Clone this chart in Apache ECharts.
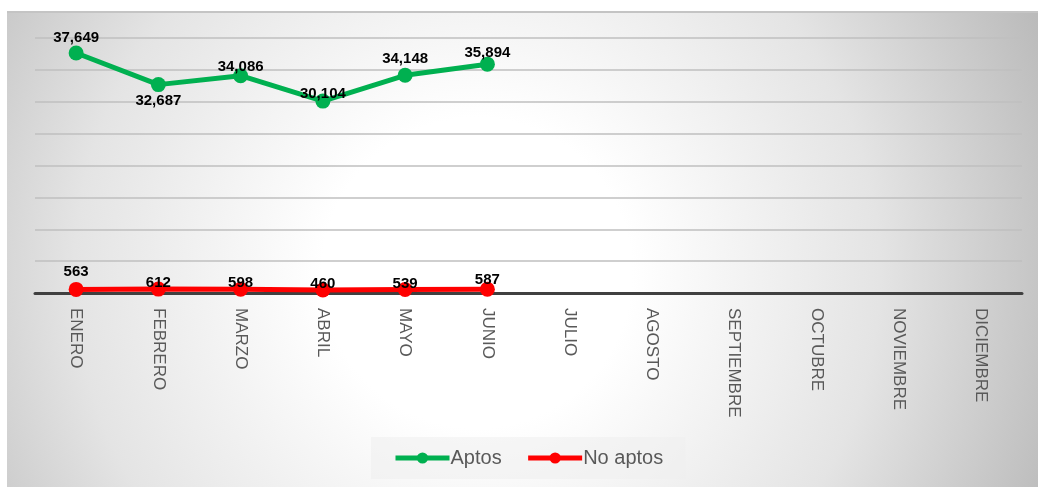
<!DOCTYPE html>
<html>
<head>
<meta charset="utf-8">
<script src="https://cdn.jsdelivr.net/npm/echarts@6/dist/echarts.min.js"></script>
<style>
  html, body { margin: 0; padding: 0; background: #ffffff; }
  #box {
    position: absolute; left: 7px; top: 11px; width: 1031px; height: 474px;
    border-top: 2px solid #c4c4c4;
    background: radial-gradient(circle 620px at 470px 260px, #ffffff 25%, #e4e4e4 65%, #bababa 100%);
  }
  #chart { position: absolute; left: 0; top: 0; width: 1038px; height: 487px; }
</style>
</head>
<body>
<div id="box"></div>
<div id="chart"></div>
<script>
// meses del eje
const months = ['ENERO', 'FEBRERO', 'MARZO', 'ABRIL', 'MAYO', 'JUNIO', 'JULIO',
  'AGOSTO', 'SEPTIEMBRE', 'OCTUBRE', 'NOVIEMBRE', 'DICIEMBRE'];
const aptos = [37649, 32687, 34086, 30104, 34148, 35894];
const noAptos = [563, 612, 598, 460, 539, 587];

// posicion de etiquetas (estilo)
const aptosLabelPos = ['top', 'bottom', 'top', 'top', 'top', 'top'];
const aptosLabelDist = [0, 1, -6, -8, 1, -4];
const noAptosLabelDist = [3, -9, -9, -9, -9, -6];

const labelFont = { fontFamily: 'Liberation Sans, Arial', fontWeight: 'bold', fontSize: 15, color: '#000' };

const chart = echarts.init(document.getElementById('chart'));
const option = {
  animation: false,
  grid: { left: 35, right: 16, top: 38, bottom: 194 },
  legend: {
    left: 371, top: 437, width: 317, height: 42,
    padding: [11, 22],
    backgroundColor: 'rgba(238,238,238,0.55)',
    itemWidth: 54, itemHeight: 14, itemGap: 24,
    lineStyle: { width: 5 },
    textStyle: { fontFamily: 'Liberation Sans, Arial', fontSize: 20, color: '#595959', padding: [0, 0, 0, -4] },
    data: ['Aptos', 'No aptos']
  },
  xAxis: {
    type: 'category',
    data: months,
    boundaryGap: true,
    axisLine: { lineStyle: { color: '#404040', width: 3 } },
    axisTick: { show: false },
    axisLabel: {
      rotate: -90, margin: 15, interval: 0,
      fontFamily: 'Liberation Sans, Arial', fontSize: 17, color: '#595959'
    }
  },
  yAxis: {
    type: 'value', min: 0, max: 40000, interval: 5000,
    axisLine: { show: false }, axisTick: { show: false }, axisLabel: { show: false },
    splitLine: { lineStyle: { color: '#bfbfbf', width: 1.5 } }
  },
  series: [
    {
      name: 'Aptos', type: 'line',
      data: aptos.map((v, i) => ({
        value: v,
        label: { position: aptosLabelPos[i], distance: aptosLabelDist[i] }
      })),
      symbol: 'circle', symbolSize: 15,
      lineStyle: { color: '#00b050', width: 5 },
      itemStyle: { color: '#00b050' },
      label: {
        show: true, ...labelFont,
        formatter: p => p.value.toLocaleString('en-US')
      }
    },
    {
      name: 'No aptos', type: 'line',
      data: noAptos.map((v, i) => ({
        value: v,
        label: { position: 'top', distance: noAptosLabelDist[i] }
      })),
      symbol: 'circle', symbolSize: 15,
      lineStyle: { color: '#ff0000', width: 5 },
      itemStyle: { color: '#ff0000' },
      label: {
        show: true, ...labelFont,
        formatter: p => p.value.toLocaleString('en-US')
      }
    }
  ]
};
chart.setOption(option);
</script>
</body>
</html>
